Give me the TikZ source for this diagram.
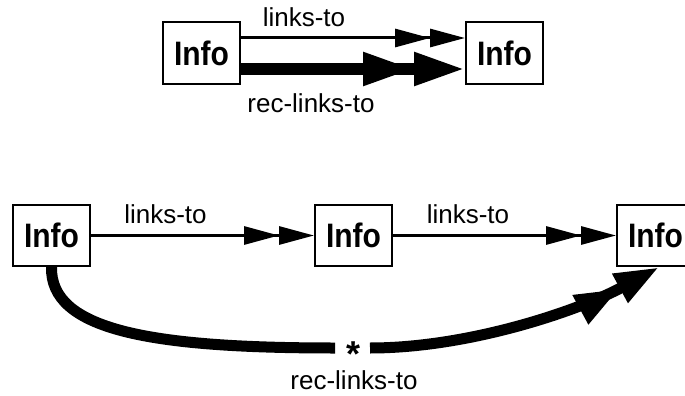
\documentclass[tikz,border=0pt]{standalone}
\usepackage{fontspec}
\setmainfont{Liberation Sans}
\usetikzlibrary{arrows.meta}

\tikzset{
  infobox/.style={draw, line width=2pt, minimum width=77pt, minimum height=61pt,
    inner sep=0pt, font=\fontsize{30}{30}\selectfont\bfseries},
  lbl/.style={anchor=base, inner sep=0pt, font=\fontsize{26}{26}\selectfont},
  thinlink/.style={line width=3pt,
    -{Triangle[length=35pt,width=18pt,sep=0pt]Triangle[length=35pt,width=18pt,sep=0pt]}},
  thicklink/.style={line width=11pt,
    -{Triangle[length=51pt,width=31pt,sep=0pt]Triangle[length=51pt,width=31pt,sep=0pt]}},
  curvelink/.style={line width=11pt,
    -{Triangle[length=45pt,width=30pt,sep=0pt]Triangle[length=45pt,width=30pt,sep=0pt]}},
}
\newcommand{\infotext}{\raisebox{-3pt}{\scalebox{1}[1.13]{Info}}}

\begin{document}
\begin{tikzpicture}[x=1pt, y=-1pt]
  \useasboundingbox (0,0) rectangle (685,396);

  % single-step and recursive link
  \node[infobox] (a) at (201.5,53) {\infotext};
  \node[infobox] (b) at (504.5,53) {\infotext};
  \draw[thinlink]  ([yshift=15pt]a.east) -- ([yshift=15pt]b.west);
  \draw[thicklink] ([yshift=-16pt]a.east) -- ([yshift=-16pt]b.west);
  \node[lbl] (la) at (304,27) {links-to};
  \node[lbl] (lb) at (311,112) {rec-links-to};

  % chain of links and its transitive closure
  \node[infobox] (c) at (51.5,235.5) {\infotext};
  \node[infobox] (d) at (353.5,235.5) {\infotext};
  \node[infobox] (e) at (655.5,235.5) {\infotext};
  \draw[thinlink] (c.east) -- (d.west);
  \draw[thinlink] (d.east) -- (e.west);
  \node[lbl] (lc) at (165.5,223) {links-to};
  \node[lbl] (ld) at (468,223) {links-to};

  \coordinate (gapL) at (335,348);
  \coordinate (gapR) at (370,348);
  \draw[line width=11pt] (c.south) .. controls (50,330) and (150,348) .. (gapL);
  \draw[curvelink] (gapR) .. controls (470,348) and (580,310) .. ([xshift=4pt]e.south);
  \node[anchor=base, inner sep=0pt, font=\fontsize{36}{36}\selectfont\bfseries] (star) at (353,366) {*};
  \node[lbl] (le) at (354,389) {rec-links-to};
\end{tikzpicture}
\end{document}
